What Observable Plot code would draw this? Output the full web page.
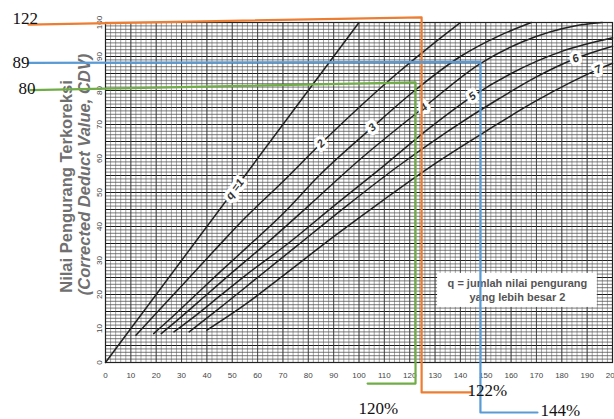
<!DOCTYPE html>
<html><head><meta charset="utf-8">
<script src="https://cdn.jsdelivr.net/npm/d3@7"></script>
<script src="https://cdn.jsdelivr.net/npm/@observablehq/plot@0.6"></script>
<style>
html,body{margin:0;padding:0;background:#fff;}
#chart{width:614px;height:419px;overflow:hidden;}
</style></head><body><div id="chart"></div>
<script>
// ---- data ----
const xTicks = d3.range(0, 201, 10);
const yTicks = d3.range(0, 101, 10);
const qNames = ["1", "2", "3", "4", "5", "6", "7"];
const curveQ1 = [[0,0],[100,100]];
const curveQ2 = [[12,8],[20,14.5],[30,22.5],[43,33],[55,42.5],[69,52.5],[85,64.4],[100,75],[115,85],[128,93],[140,100]];
const curveQ3 = [[19,8.5],[25,12.5],[35,19.5],[45,26.5],[56,34],[69,43],[85,55.5],[105,69],[122,80],[140,90],[155,96],[168,100]];
const curveQ4 = [[22,8.5],[30,13.5],[40,20],[50,26.5],[65,36],[80,46],[100,59.5],[125.5,75],[148,88],[165,94.5],[185,99],[196,100]];
const curveQ5 = [[27,9],[35,13.5],[45,19.5],[55,25.5],[72,35],[90,46],[110,58],[127,68.5],[144.7,78.3],[160,85],[180,91.5],[200,95.5]];
const curveQ6 = [[33,9],[45,16],[60,25],[75,34],[95,46],[115,57.5],[135,68],[155,77.5],[170,84],[185.4,89.4],[200,93]];
const curveQ7 = [[40,9.5],[55,17],[70,25.5],[90,37],[110,48],[130,58.5],[150,68],[170,77],[194.3,86.2],[200,88]];
const curves = [curveQ1, curveQ2, curveQ3, curveQ4, curveQ5, curveQ6, curveQ7];
const labelText = ["q =1", "2", "3", "4", "5", "6", "7"];
const labelTDV = [51, 85, 105.2, 125.5, 144.7, 185.4, 194.3];

// annotation (hand-drawn coloured guides)
const annoColors = ["#ED7D31", "#5B9BD5", "#70AD47"];
const annoCDVText = ["122", "89", "80"];
const annoTDVText = ["122%", "144%", "120%"];
const annoPaths = [
  [[-30.4,99.4],[124.7,101.5],[124.7,-8.8],[144,-8.8]],
  [[-30.4,88.1],[147.9,88.4],[147.9,-14.7],[170.4,-14.7]],
  [[-29.6,80.1],[122.3,82.4],[122.3,-6.2],[103.4,-6.2]]
];
const annoCDVPos = [[-36.7,101.3],[-36.7,88.1],[-34.3,80.7]];
const annoTDVPos = [[142.8,-8.2],[171.6,-14.2],[99.8,-13.5]];
const legendLines = ["q = jumlah nilai pengurang", "yang lebih besar 2"];
const legendBox = [{x1:131, x2:194, y1:16.2, y2:26.2}];
const yTitle = ["Nilai Pengurang Terkoreksi", "(Corrected Deduct Value, CDV)"];

// ---- build tables ----
const curveRows = curves.flatMap((c, i) => c.map(([t, v]) => ({q: qNames[i], tdv: t, cdv: v})));
const W = 614, H = 419, mL = 105, mR = 2, mT = 22, mB = 57;
const kx = (W - mL - mR) / 200, ky = (H - mT - mB) / 100;
function interp(c, t) {
  for (let i = 0; i < c.length - 1; i++) {
    const [a, va] = c[i], [b, vb] = c[i + 1];
    if (t >= a && t <= b) return {v: va + (vb - va) * (t - a) / (b - a), s: (vb - va) / (b - a)};
  }
  return {v: c[c.length-1][1], s: 0};
}
const labelRows = labelTDV.map((t, i) => {
  const r = interp(curves[i], t);
  return {text: labelText[i], tdv: t, cdv: r.v, angle: -Math.atan(r.s * ky / kx) * 180 / Math.PI};
});
const annoRows = annoPaths.flatMap((p, i) => p.map(([t, v]) => ({k: i, tdv: t, cdv: v})));
const annoCDVRows = annoCDVText.map((s, i) => ({text: s, tdv: annoCDVPos[i][0], cdv: annoCDVPos[i][1]}));
const annoTDVRows = annoTDVText.map((s, i) => ({text: s, tdv: annoTDVPos[i][0], cdv: annoTDVPos[i][1]}));

const chart = Plot.plot({
  width: W, height: H,
  marginLeft: mL, marginRight: mR, marginTop: mT, marginBottom: mB,
  x: {domain: [0, 200]},
  y: {domain: [0, 100]},
  style: {background: "white", fontFamily: "'Liberation Sans', Arial, sans-serif", overflow: "visible"},
  marks: [
    Plot.ruleY(d3.range(0, 101, 1), {stroke: "#444", strokeWidth: 0.9, strokeOpacity: 0.8}),
    Plot.ruleY(d3.range(0, 101, 5), {stroke: "#1a1a1a", strokeWidth: 1.2}),
    Plot.ruleX(d3.range(0, 201, 2), {stroke: "#555", strokeWidth: 0.8, strokeOpacity: 0.65}),
    Plot.ruleX(d3.range(0, 201, 10), {stroke: "#333", strokeWidth: 0.9, strokeOpacity: 0.85}),
    Plot.frame({stroke: "#222", strokeWidth: 1.2}),
    Plot.line(curveRows, {x: "tdv", y: "cdv", z: "q", stroke: "#222", strokeWidth: 1.5, curve: "monotone-x"}),
    Plot.text(labelRows, {x: "tdv", y: "cdv", text: "text", rotate: "angle", fontSize: 11, fontWeight: "bold", fontStyle: "italic",
      fill: "#333", stroke: "white", strokeWidth: 7, strokeLinejoin: "round"}),
    Plot.rect(legendBox, {x1: "x1", x2: "x2", y1: "y1", y2: "y2", fill: "white"}),
    Plot.text(legendBox, {x: d => (d.x1 + d.x2) / 2, y: d => (d.y1 + d.y2) / 2, text: () => legendLines[0], dy: -7, fontSize: 11, fontWeight: "bold", fill: "#555"}),
    Plot.text(legendBox, {x: d => (d.x1 + d.x2) / 2, y: d => (d.y1 + d.y2) / 2, text: () => legendLines[1], dy: 7, fontSize: 11, fontWeight: "bold", fill: "#555"}),
    Plot.axisX({ticks: xTicks, tickSize: 0, tickPadding: 10, fontSize: 8, fill: "#444", label: null}),
    Plot.axisY({ticks: yTicks, tickSize: 0, tickPadding: 4, tickRotate: -90, fontSize: 8, fill: "#444", label: null}),
    Plot.text([yTitle[0]], {frameAnchor: "left", textAnchor: "middle", dx: -39, dy: -6, rotate: -90, fontSize: 16.5, fontWeight: "bold", fill: "#707070"}),
    Plot.text([yTitle[1]], {frameAnchor: "left", textAnchor: "middle", dx: -21, dy: -18, rotate: -90, fontSize: 16.5, fontWeight: "bold", fontStyle: "italic", fill: "#707070"}),
    Plot.line(annoRows, {x: "tdv", y: "cdv", z: "k", stroke: d => annoColors[d.k], strokeWidth: 2.2}),
    Plot.text(annoCDVRows, {x: "tdv", y: "cdv", text: "text", textAnchor: "start", fontSize: 17, fontFamily: "'Liberation Serif', serif", fill: "#111"}),
    Plot.text(annoTDVRows, {x: "tdv", y: "cdv", text: "text", textAnchor: "start", fontSize: 17, fontFamily: "'Liberation Serif', serif", fill: "#111"})
  ]
});
document.getElementById("chart").appendChild(chart);
</script></body></html>
